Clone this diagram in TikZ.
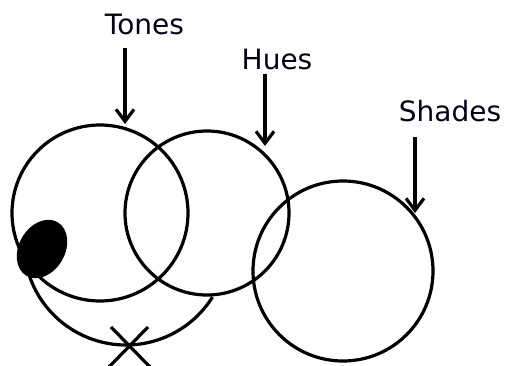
\documentclass[tikz,border=0pt]{standalone}
\usepackage{fontspec}
\setmainfont{DejaVu Sans}
\usetikzlibrary{arrows.meta}
\begin{document}
\begin{tikzpicture}[x=1pt,y=-1pt,
  ring/.style={circle,draw,line width=3.2pt,inner sep=0pt},
  lbl/.style={font=\fontsize{28}{32}\selectfont,anchor=base,inner sep=0pt,text=black!90!blue},
  pointer/.style={line width=3.2pt,-{Straight Barb[length=12pt,width=18pt,line width=3.2pt]}},
  stroke/.style={line width=3.2pt}]
\useasboundingbox (0,0) rectangle (505,366);
\node[ring,minimum size=176pt] (c1) at (100,213) {};
\node[ring,minimum size=164pt] (c2) at (207,213) {};
\node[ring,minimum size=180pt] (c3) at (343,271) {};
\draw[stroke] (126,243) ++(165:102) arc[start angle=165,end angle=32,radius=102];
\fill[rotate around={-30:(42,249)}] (42,249) ellipse [x radius=23, y radius=31];
\node[lbl] (tones) at (144.5,35) {Tones};
\node[lbl] (hues) at (277,70) {Hues};
\node[lbl] (shades) at (450,122) {Shades};
\coordinate (t1) at (125,48); \coordinate (t2) at (125,124);
\coordinate (h1) at (265,74); \coordinate (h2) at (265,146);
\coordinate (s1) at (415,137); \coordinate (s2) at (415,213);
\draw[pointer] (t1) -- (t2);
\draw[pointer] (h1) -- (h2);
\draw[pointer] (s1) -- (s2);
\coordinate (xa) at (111,327); \coordinate (xb) at (150,367);
\coordinate (xc) at (148,327); \coordinate (xd) at (109,367);
\draw[stroke] (xa) -- (xb);
\draw[stroke] (xc) -- (xd);
\end{tikzpicture}
\end{document}
